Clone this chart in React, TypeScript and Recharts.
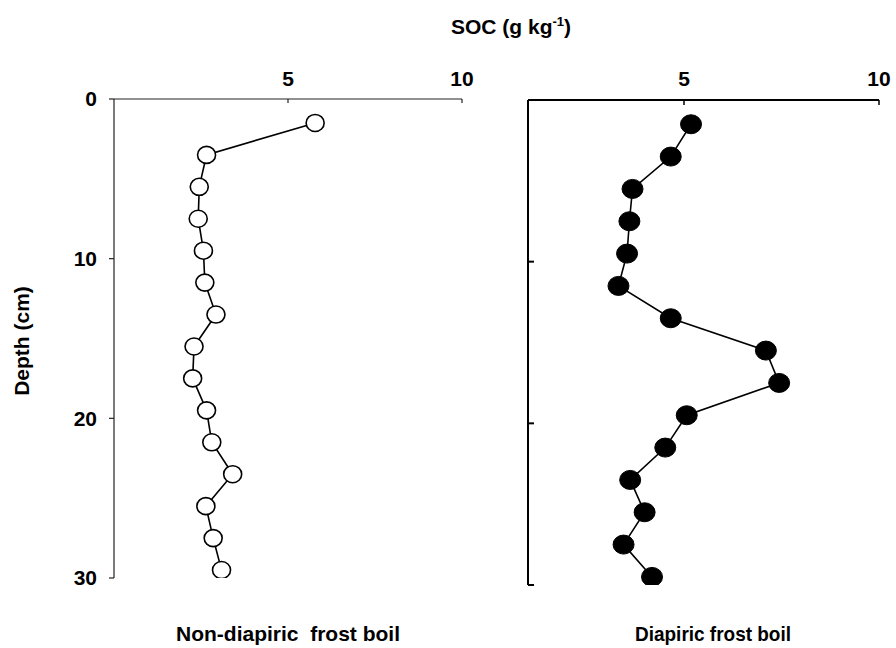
import React from 'react';
import { ScatterChart, Scatter, XAxis, YAxis } from 'recharts';

// Sampling depths (cm), mid-point of each 2 cm slice
const depths = [1.5, 3.5, 5.5, 7.5, 9.5, 11.5, 13.5, 15.5, 17.5, 19.5, 21.5, 23.5, 25.5, 27.5, 29.5];

// Soil organic carbon (g kg-1) per slice
const nonDiapiricSoc = [5.78, 2.66, 2.45, 2.42, 2.57, 2.61, 2.93, 2.3, 2.26, 2.66, 2.81, 3.41, 2.64, 2.85, 3.09];
const diapiricSoc = [5.18, 4.66, 3.68, 3.6, 3.54, 3.32, 4.66, 7.1, 7.44, 5.07, 4.52, 3.62, 3.99, 3.45, 4.18];

const socTicks = [5, 10];
const depthTicks = [0, 10, 20, 30];

const panelTitles = ['Non-diapiric\u00a0 frost boil', 'Diapiric frost boil'];

const FONT = '"Liberation Sans", Arial, sans-serif';

const toRows = (soc: number[]) => soc.map((v, i) => ({ soc: v, depth: depths[i] }));

const nonDiapiricRows = toRows(nonDiapiricSoc);
const diapiricRows = toRows(diapiricSoc);

const tickStyle = { fontFamily: FONT, fontWeight: 700, fontSize: 21, fill: '#000' };

const OpenDot = (props: any) => (
  <ellipse cx={props.cx} cy={props.cy} rx={9} ry={8.5} fill="#fff" stroke="#000" strokeWidth={1.6} />
);

const FilledDot = (props: any) => (
  <ellipse cx={props.cx} cy={props.cy} rx={10.5} ry={9.5} fill="#000" stroke="#000" strokeWidth={1} />
);

export default function App() {
  return (
    <div style={{ position: 'absolute', left: 0, top: 0, width: 896, height: 648, background: '#fff' }}>
      <div style={{ position: 'absolute', left: 0, top: 0 }}>
        <ScatterChart width={480} height={648} margin={{ top: 69, right: 18, bottom: 70, left: 64 }}>
          <XAxis
            type="number"
            dataKey="soc"
            orientation="top"
            domain={[0, 10]}
            ticks={socTicks}
            allowDataOverflow
            height={30}
            tickSize={-4}
            tickMargin={17}
            axisLine={{ stroke: '#222', strokeWidth: 1.2 }}
            tickLine={{ stroke: '#222', strokeWidth: 1.2 }}
            tick={tickStyle}
          />
          <YAxis
            type="number"
            dataKey="depth"
            reversed
            domain={[0, 30]}
            ticks={depthTicks}
            allowDataOverflow
            width={50}
            tickSize={5}
            tickMargin={12}
            axisLine={{ stroke: '#222', strokeWidth: 1.2 }}
            tickLine={{ stroke: '#222', strokeWidth: 1.2 }}
            tick={tickStyle}
          />
          <Scatter
            data={nonDiapiricRows}
            line={{ stroke: '#000', strokeWidth: 1.6 }}
            lineType="joint"
            shape={OpenDot}
            isAnimationActive={false}
          />
        </ScatterChart>
      </div>
      <div style={{ position: 'absolute', left: 480, top: 0 }}>
        <ScatterChart width={416} height={648} margin={{ top: 70, right: 17, bottom: 63, left: 28 }}>
          <XAxis
            type="number"
            dataKey="soc"
            orientation="top"
            domain={[1, 10]}
            ticks={socTicks}
            allowDataOverflow
            height={30}
            tickSize={-5}
            tickMargin={19}
            axisLine={{ stroke: '#000', strokeWidth: 2 }}
            tickLine={{ stroke: '#000', strokeWidth: 1.5 }}
            tick={tickStyle}
          />
          <YAxis
            type="number"
            dataKey="depth"
            reversed
            domain={[0, 30]}
            ticks={depthTicks}
            allowDataOverflow
            width={20}
            tickSize={-6}
            tickFormatter={() => ''}
            axisLine={{ stroke: '#000', strokeWidth: 2 }}
            tickLine={{ stroke: '#000', strokeWidth: 2 }}
          />
          <Scatter
            data={diapiricRows}
            line={{ stroke: '#000', strokeWidth: 1.6 }}
            lineType="joint"
            shape={FilledDot}
            isAnimationActive={false}
          />
        </ScatterChart>
      </div>
      <svg
        width={896}
        height={648}
        style={{ position: 'absolute', left: 0, top: 0, pointerEvents: 'none' }}
        fontFamily={FONT}
        fontWeight={700}
        fill="#000"
      >
        <text x={511} y={34} textAnchor="middle" fontSize={21}>
          SOC (g kg
          <tspan dy={-8} fontSize={13}>-1</tspan>
          <tspan dy={8}>)</tspan>
        </text>
        <text x={22} y={341} textAnchor="middle" fontSize={21} transform="rotate(-90 22 341)" dy={7}>
          Depth (cm)
        </text>
        <text x={288} y={641} textAnchor="middle" fontSize={21}>
          {panelTitles[0]}
        </text>
        <text
          x={713}
          y={641}
          textAnchor="middle"
          fontSize={21}
          textLength={156}
          lengthAdjust="spacingAndGlyphs"
        >
          {panelTitles[1]}
        </text>
      </svg>
    </div>
  );
}
